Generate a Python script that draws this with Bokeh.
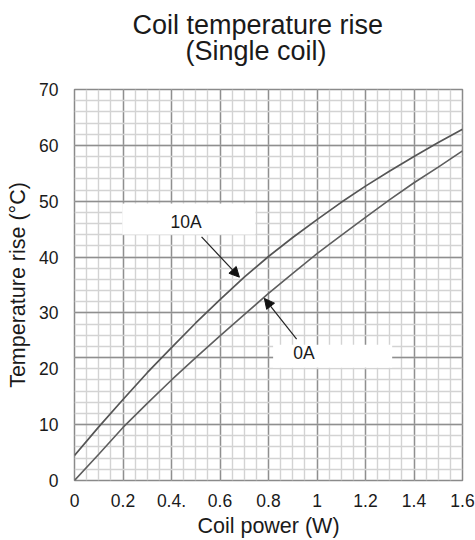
from bokeh.plotting import figure
from bokeh.models import (Range1d, FixedTicker, Label, Arrow, NormalHead, BoxAnnotation, Title)
from bokeh.embed import file_html
from bokeh.resources import INLINE

# ---- data ----
coil_power = [0.0, 0.1, 0.2, 0.3, 0.4, 0.5, 0.6, 0.7, 0.8, 0.9, 1.0, 1.1, 1.2, 1.3, 1.4, 1.5, 1.6]
rise_10a = [4.5, 9.6, 14.5, 19.3, 23.8, 28.2, 32.4, 36.4, 40.1, 43.5, 46.7, 49.8, 52.7, 55.4, 58.0, 60.5, 62.9]
rise_0a = [0.0, 4.7, 9.5, 13.8, 18.0, 22.0, 25.9, 29.7, 33.5, 37.1, 40.6, 43.9, 47.1, 50.3, 53.3, 56.1, 59.0]

x_ticks = [0, 0.2, 0.4, 0.6, 0.8, 1.0, 1.2, 1.4, 1.6]
x_tick_labels = ["0", "0.2", "0.4.", "0.6", "0.8", "1", "1.2", "1.4", "1.6"]
y_ticks = [0, 10, 20, 30, 40, 50, 60, 70]

x_grid_major = [0.2, 0.4, 0.6, 0.8, 1.0, 1.2, 1.4]
x_grid_minor = [i * 0.05 for i in range(1, 32)]
y_grid_major = [10, 22, 30, 40, 50, 60]
y_grid_minor = [i * 2 for i in range(1, 35)]

title_line1 = "Coil temperature rise"
title_line2 = "(Single coil)"

FONT = "Liberation Sans"
TXT = "#1a1a1a"

p = figure(width=475, height=540, output_backend="svg", toolbar_location=None,
           x_range=Range1d(0, 1.6), y_range=Range1d(0, 70),
           min_border_left=74, min_border_right=13, min_border_top=89, min_border_bottom=59)

p.background_fill_color = "white"
p.border_fill_color = "white"
p.outline_line_color = "#8a8a8a"
p.outline_line_width = 1.5

# title: the plot title sits outermost (first line); the second line is a
# separate Title panel directly above the frame
p.title.text = title_line1
p.title.align = "left"
p.title.offset = 58
p.title.standoff = -60
p.title.text_font = FONT
p.title.text_font_size = "27px"
p.title.text_font_style = "normal"
p.title.text_color = TXT
p.add_layout(Title(text=title_line2, align="left", offset=111, standoff=48,
                   text_font=FONT, text_font_size="27px", text_font_style="normal",
                   text_color=TXT), "above")

# axes
p.xaxis.ticker = FixedTicker(ticks=x_ticks)
p.xaxis.major_label_overrides = {t: l for t, l in zip(x_ticks, x_tick_labels)}
p.yaxis.ticker = FixedTicker(ticks=y_ticks)
for ax in (p.xaxis, p.yaxis):
    ax.axis_line_color = None
    ax.major_tick_line_color = None
    ax.minor_tick_line_color = None
    ax.major_label_text_font = FONT
    ax.major_label_text_font_size = "17.5px"
    ax.major_label_text_color = TXT
    ax.axis_label_text_font = FONT
    ax.axis_label_text_font_size = "21.5px"
    ax.axis_label_text_font_style = "normal"
    ax.axis_label_text_color = TXT
p.xaxis.axis_label = "Coil power (W)"
p.yaxis.axis_label = "Temperature rise (°C)"
p.xaxis.major_label_standoff = 7
p.yaxis.major_label_standoff = 10
p.xaxis.axis_label_standoff = 4
p.yaxis.axis_label_standoff = 6

# grids
p.xgrid.ticker = FixedTicker(ticks=x_grid_major, minor_ticks=x_grid_minor)
p.ygrid.ticker = FixedTicker(ticks=y_grid_major, minor_ticks=y_grid_minor)
for g in (p.xgrid, p.ygrid):
    g.grid_line_color = "#8f8f8f"
    g.grid_line_width = 1.4
    g.minor_grid_line_color = "#d3d3d3"
    g.minor_grid_line_width = 1.4

# curves
p.line(coil_power, rise_10a, line_color="#555555", line_width=1.7)
p.line(coil_power, rise_0a, line_color="#5e5e5e", line_width=1.6)

# label boxes
p.add_layout(BoxAnnotation(left=0.197, right=0.746, bottom=44.05, top=49.6,
                           fill_color="white", fill_alpha=1, line_alpha=0, level="overlay"))
p.add_layout(BoxAnnotation(left=0.819, right=1.31, bottom=20.2, top=24.3,
                           fill_color="white", fill_alpha=1, line_alpha=0, level="overlay"))

# arrows
p.add_layout(Arrow(end=NormalHead(size=10, fill_color="#111111", line_color="#111111"),
                   x_start=0.524, y_start=43.6, x_end=0.680, y_end=36.4,
                   line_color="#222222", line_width=1.2, level="overlay"))
p.add_layout(Arrow(end=NormalHead(size=10, fill_color="#111111", line_color="#111111"),
                   x_start=0.916, y_start=25.3, x_end=0.783, y_end=32.6,
                   line_color="#222222", line_width=1.2, level="overlay"))

p.add_layout(Label(x=0.46, y=46.3, text="10A", text_align="center", text_baseline="middle",
                   text_font=FONT, text_font_size="17.5px", text_color=TXT, level="overlay"))
p.add_layout(Label(x=0.946, y=22.8, text="0A", text_align="center", text_baseline="middle",
                   text_font=FONT, text_font_size="17.5px", text_color=TXT, level="overlay"))

open("out.html", "w").write(file_html(p, INLINE))
